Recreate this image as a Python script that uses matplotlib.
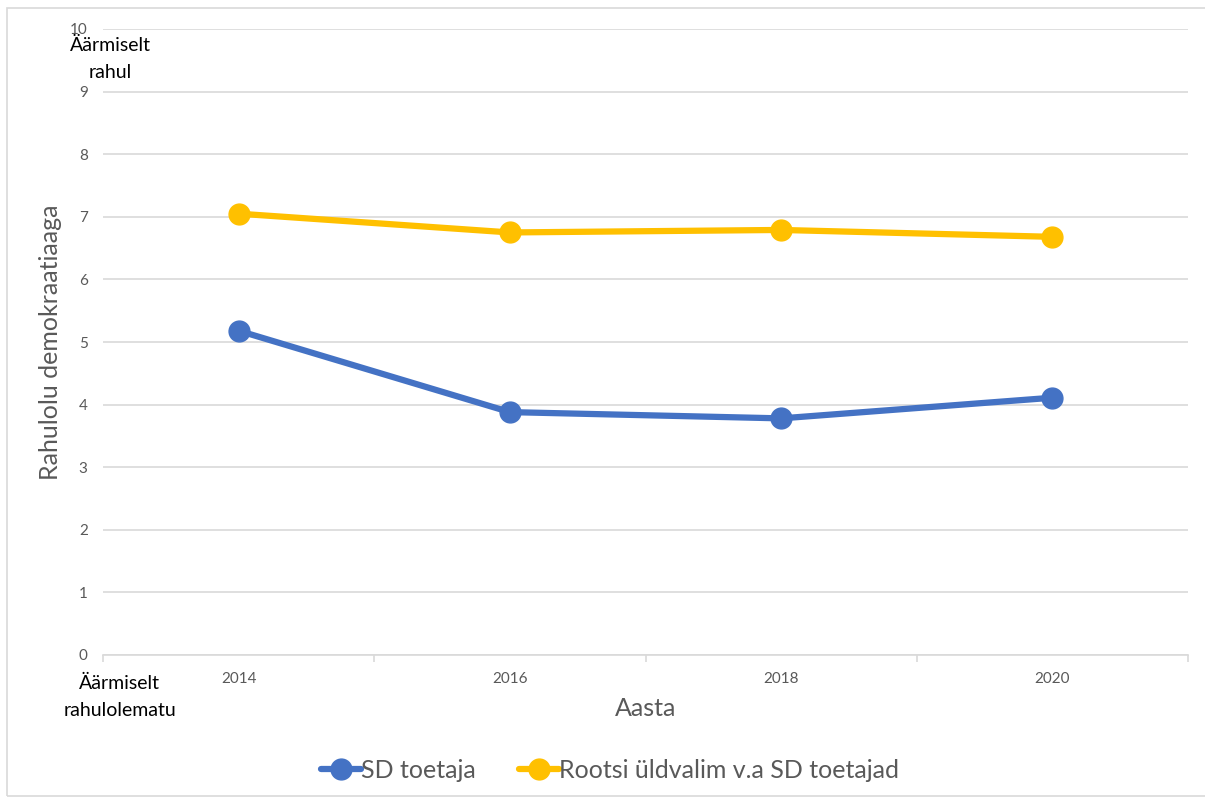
import numpy as np
import matplotlib
matplotlib.use("Agg")
import matplotlib.pyplot as plt
from matplotlib.patches import Rectangle

# andmed
aastad = ["2014", "2016", "2018", "2020"]
sd_toetaja = [5.18, 3.88, 3.78, 4.11]
rootsi_valim = [7.05, 6.75, 6.79, 6.68]

sinine = "#4472C4"
kollane = "#FFC000"
hall = "#595959"
ruudustik = "#D9D9D9"

plt.rcParams['font.family'] = ['Lato', 'DejaVu Sans']

fig = plt.figure(figsize=(12.05, 7.98), dpi=100)
ax = fig.add_axes([103/1205, 1-655/798, (1188-103)/1205, (655-29)/798])

# raam ümber kogu joonise
fig.patches.append(Rectangle((7/1205, 2/798), 1.2, 1-10/798, transform=fig.transFigure,
                             fill=False, edgecolor=ruudustik, linewidth=1.2))

x = np.arange(len(aastad))
ax.plot(x, sd_toetaja, color=sinine, linewidth=4.5, marker='o', markersize=15,
        label="SD toetaja", solid_capstyle='round')
ax.plot(x, rootsi_valim, color=kollane, linewidth=4.5, marker='o', markersize=15,
        label="Rootsi üldvalim v.a SD toetajad", solid_capstyle='round')

ax.set_xlim(-0.5, len(aastad) - 0.5)
ax.set_ylim(0, 10)
ax.set_yticks(range(0, 11))
ax.yaxis.grid(True, color=ruudustik, linewidth=1.2)
ax.set_axisbelow(True)
for s in ['top', 'right', 'left']:
    ax.spines[s].set_visible(False)
ax.spines['bottom'].set_color(ruudustik)
ax.spines['bottom'].set_linewidth(1.2)

ax.set_xticks(x)
ax.set_xticklabels(aastad)
ax.set_xticks(np.arange(-0.5, len(aastad)), minor=True)
ax.tick_params(axis='x', which='major', length=0, pad=12, labelsize=11, labelcolor=hall)
ax.tick_params(axis='x', which='minor', length=5, color=ruudustik, width=1.2)
ax.tick_params(axis='y', length=0, pad=11, labelsize=11, labelcolor=hall)

ax.set_xlabel("Aasta", fontsize=18, color=hall, labelpad=8)
ax.set_ylabel("Rahulolu demokraatiaaga", fontsize=18, color=hall, labelpad=6)

# skaala otste selgitused
fig.text(110/1205, 1-45/798, "Äärmiselt", ha='center', va='center', fontsize=14, color='black')
fig.text(110/1205, 1-72/798, "rahul", ha='center', va='center', fontsize=14, color='black')
fig.text(119/1205, 1-683/798, "Äärmiselt", ha='center', va='center', fontsize=14, color='black')
fig.text(120/1205, 1-710/798, "rahulolematu", ha='center', va='center', fontsize=14, color='black')

leg = fig.legend(loc='center', bbox_to_anchor=(610/1205, 1-770/798), ncol=2, frameon=False,
                 fontsize=18, handlelength=1.6, columnspacing=1.7, handletextpad=0.0)
for t in leg.get_texts():
    t.set_color(hall)

fig.savefig("out.png", dpi=100)
